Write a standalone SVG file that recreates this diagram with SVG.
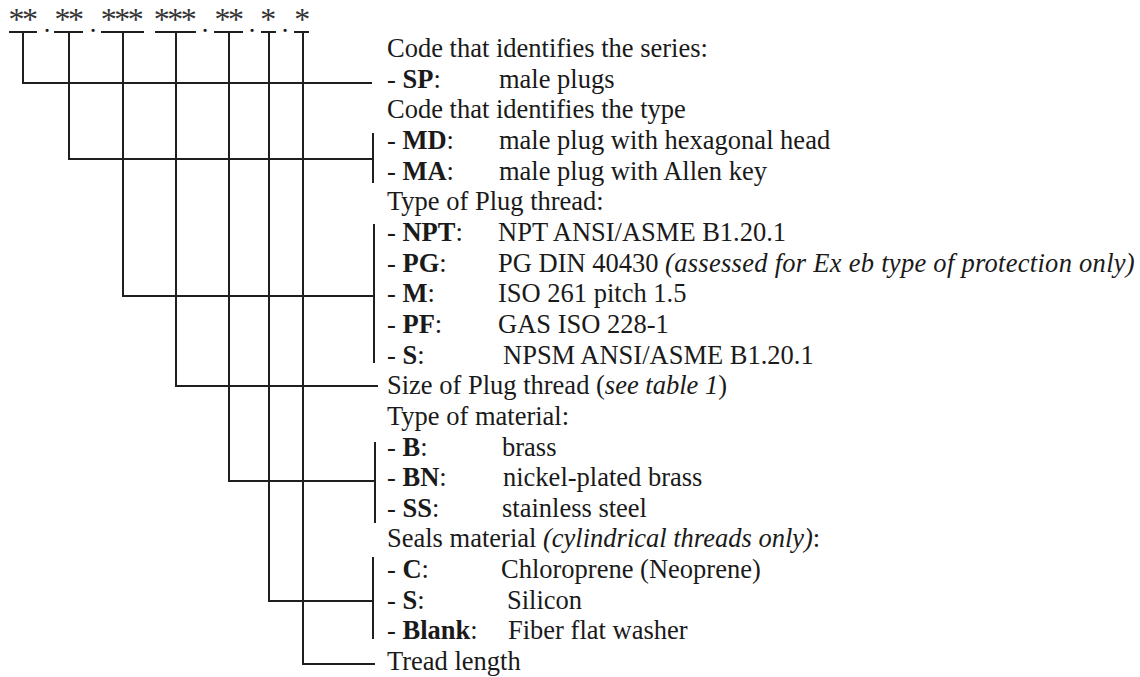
<svg xmlns="http://www.w3.org/2000/svg" width="1140" height="677" viewBox="0 0 1140 677">
<style>
text{font-family:"Liberation Serif","Times New Roman",serif;font-size:26.5px;fill:#1a1a1a}
.b{font-weight:bold}
.i{font-style:italic}
.pg{letter-spacing:0.28px}
.ast{text-anchor:middle;font-size:32px;letter-spacing:-2.5px;fill:#333}
.dot{text-anchor:middle}
.ln{stroke:#1f1f1f;stroke-width:2;fill:none;stroke-linecap:square}
</style>
<rect width="1140" height="677" fill="#ffffff"/>

<g id="code">
  <g id="seg-series"><text class="ast" x="22" y="30">**</text><line class="ln" x1="10" y1="32" x2="36" y2="32"/></g>
  <text class="dot" x="47" y="32">.</text>
  <g id="seg-type"><text class="ast" x="68" y="30">**</text><line class="ln" x1="55" y1="32" x2="82" y2="32"/></g>
  <text class="dot" x="93" y="32">.</text>
  <g id="seg-thread"><text class="ast" x="121" y="30">***</text><line class="ln" x1="102" y1="32" x2="143" y2="32"/></g>
  <g id="seg-size"><text class="ast" x="174" y="30">***</text><line class="ln" x1="156" y1="32" x2="195" y2="32"/></g>
  <text class="dot" x="205" y="32">.</text>
  <g id="seg-material"><text class="ast" x="228" y="30">**</text><line class="ln" x1="215" y1="32" x2="242" y2="32"/></g>
  <text class="dot" x="252" y="32">.</text>
  <g id="seg-seals"><text class="ast" x="267" y="30">*</text><line class="ln" x1="262" y1="32" x2="275" y2="32"/></g>
  <text class="dot" x="285" y="32">.</text>
  <g id="seg-length"><text class="ast" x="301" y="30">*</text><line class="ln" x1="295" y1="32" x2="308" y2="32"/></g>
</g>

<g id="connectors">
  <polyline class="ln" points="23,32 23,83 371,83"/>
  <polyline class="ln" points="69,32 69,159 373,159"/>
  <line class="ln" x1="373" y1="134" x2="373" y2="182"/>
  <polyline class="ln" points="123,32 123,296 374,296"/>
  <line class="ln" x1="374" y1="225" x2="374" y2="362"/>
  <polyline class="ln" points="176,32 176,386 377,386"/>
  <polyline class="ln" points="229,32 229,481 375,481"/>
  <line class="ln" x1="375" y1="443" x2="375" y2="522"/>
  <polyline class="ln" points="269,32 269,601 373,601"/>
  <line class="ln" x1="373" y1="558" x2="373" y2="638"/>
  <polyline class="ln" points="303,32 303,664 374,664"/>
</g>

<g id="desc-series">
  <text x="387" y="57">Code that identifies the series:</text>
  <text x="387" y="87.6">- <tspan class="b">SP</tspan>:</text>
  <text x="499" y="87.6">male plugs</text>
</g>

<g id="desc-type">
  <text x="387" y="118.3">Code that identifies the type</text>
  <text x="387" y="149">- <tspan class="b">MD</tspan>:</text>
  <text x="499" y="149">male plug with hexagonal head</text>
  <text x="387" y="179.6">- <tspan class="b">MA</tspan>:</text>
  <text x="499" y="179.6">male plug with Allen key</text>
</g>

<g id="desc-thread">
  <text x="387" y="210.3">Type of Plug thread:</text>
  <text x="387" y="240.9">- <tspan class="b">NPT</tspan>:</text>
  <text x="498" y="240.9">NPT ANSI/ASME B1.20.1</text>
  <text x="387" y="271.6">- <tspan class="b">PG</tspan>:</text>
  <text x="498" y="271.6">PG DIN 40430 <tspan class="i pg">(assessed for Ex eb type of protection only)</tspan></text>
  <text x="387" y="302.2">- <tspan class="b">M</tspan>:</text>
  <text x="498" y="302.2">ISO 261 pitch 1.5</text>
  <text x="387" y="332.9">- <tspan class="b">PF</tspan>:</text>
  <text x="498" y="332.9">GAS ISO 228-1</text>
  <text x="387" y="363.5">- <tspan class="b">S</tspan>:</text>
  <text x="503" y="363.5">NPSM ANSI/ASME B1.20.1</text>
</g>

<g id="desc-size">
  <text x="387" y="394.2">Size of Plug thread (<tspan class="i">see table 1</tspan>)</text>
</g>

<g id="desc-material">
  <text x="387" y="424.8">Type of material:</text>
  <text x="387" y="455.5">- <tspan class="b">B</tspan>:</text>
  <text x="502" y="455.5">brass</text>
  <text x="387" y="486.1">- <tspan class="b">BN</tspan>:</text>
  <text x="503" y="486.1">nickel-plated brass</text>
  <text x="387" y="516.8">- <tspan class="b">SS</tspan>:</text>
  <text x="502" y="516.8">stainless steel</text>
</g>

<g id="desc-seals">
  <text x="387" y="547.4">Seals material <tspan class="i">(cylindrical threads only)</tspan>:</text>
  <text x="387" y="578">- <tspan class="b">C</tspan>:</text>
  <text x="501" y="578">Chloroprene (Neoprene)</text>
  <text x="387" y="608.7">- <tspan class="b">S</tspan>:</text>
  <text x="507" y="608.7">Silicon</text>
  <text x="387" y="639.4">- <tspan class="b">Blank</tspan>:</text>
  <text x="508" y="639.4">Fiber flat washer</text>
</g>

<g id="desc-length">
  <text x="387" y="670">Tread length</text>
</g>
</svg>
